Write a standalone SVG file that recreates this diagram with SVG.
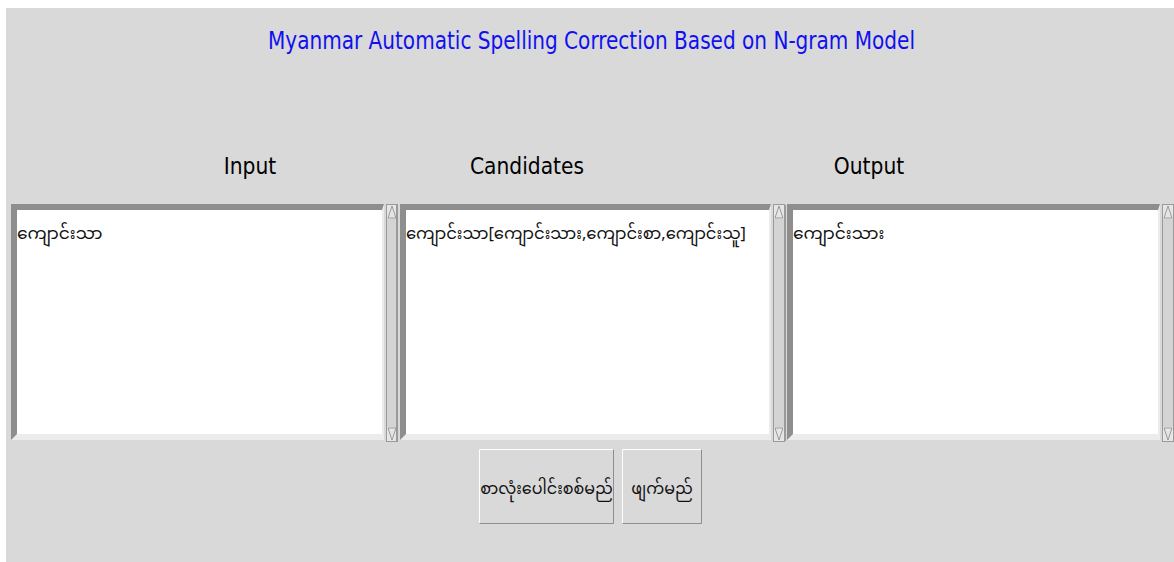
<svg xmlns="http://www.w3.org/2000/svg" width="1174" height="562" viewBox="0 0 1174 562">
<style>
.hdr{font-family:"DejaVu Sans Condensed","DejaVu Sans",sans-serif;font-stretch:condensed;font-size:22.5px;fill:#000;text-anchor:middle}
.title{font-family:"DejaVu Sans Condensed","DejaVu Sans",sans-serif;font-stretch:condensed;font-size:25px;fill:#1010f0}
.mm{font-family:"Noto Sans Myanmar","Padauk","Myanmar Text","Myanmar3","Noto Sans",sans-serif;font-size:17px;fill:#111}
.mmb{font-family:"Noto Sans Myanmar","Padauk","Myanmar Text","Myanmar3","Noto Sans",sans-serif;font-size:16px;fill:#111;text-anchor:middle}
.dark{fill:#8e8e8e}
.light{fill:#ececec}
.sb{fill:#d4d4d4;stroke:#9a9a9a;stroke-width:1}
.arr{fill:none;stroke:#9a9a9a;stroke-width:1}
.btn{fill:#d9d9d9}
</style>
<rect x="0" y="0" width="1174" height="562" fill="#ffffff"/>
<rect x="6" y="8" width="1168" height="554" fill="#d9d9d9"/>
<g id="title"><text class="title" x="268" y="49" textLength="647" lengthAdjust="spacingAndGlyphs">Myanmar Automatic Spelling Correction Based on N-gram Model</text></g>
<g id="headers">
<text class="hdr" x="250" y="174">Input</text>
<text class="hdr" x="527" y="174">Candidates</text>
<text class="hdr" x="869" y="174">Output</text>
</g>
<g id="input-box">
<rect class="light" x="11" y="204" width="373" height="236"/>
<polygon class="dark" points="11,204 384,204 382,210 17,210 17,434 11,440"/>
<rect x="17" y="210" width="365" height="224" fill="#ffffff"/>
<text class="mm" x="17" y="239">ကျောင်းသာ</text>
</g>
<g id="input-scroll">
<rect class="sb" x="386.5" y="204.5" width="11" height="237"/>
<rect fill="#e6e6e6" x="387" y="205" width="10" height="14"/>
<polygon class="arr" points="388,218 392,206 396,218"/>
<rect fill="#e6e6e6" x="387" y="427" width="10" height="14"/>
<polygon class="arr" points="388,428 392,440 396,428"/>
<rect fill="#9a9a9a" x="396" y="205" width="2" height="236"/>
</g>
<g id="candidates-box">
<rect class="light" x="400" y="204" width="371" height="236"/>
<polygon class="dark" points="400,204 771,204 769,210 406,210 406,434 400,440"/>
<rect x="406" y="210" width="363" height="224" fill="#ffffff"/>
<text class="mm" x="406" y="239" textLength="340" lengthAdjust="spacingAndGlyphs">ကျောင်းသာ[ကျောင်းသား,ကျောင်းစာ,ကျောင်းသူ]</text>
</g>
<g id="candidates-scroll">
<rect class="sb" x="773.5" y="204.5" width="11" height="237"/>
<rect fill="#e6e6e6" x="774" y="205" width="10" height="14"/>
<polygon class="arr" points="775,218 779,206 783,218"/>
<rect fill="#e6e6e6" x="774" y="427" width="10" height="14"/>
<polygon class="arr" points="775,428 779,440 783,428"/>
<rect fill="#9a9a9a" x="784" y="205" width="2" height="236"/>
</g>
<g id="output-box">
<rect class="light" x="787" y="204" width="373" height="236"/>
<polygon class="dark" points="787,204 1160,204 1158,210 793,210 793,434 787,440"/>
<rect x="793" y="210" width="365" height="224" fill="#ffffff"/>
<text class="mm" x="793" y="239">ကျောင်းသား</text>
</g>
<g id="output-scroll">
<rect class="sb" x="1162.5" y="204.5" width="11" height="237"/>
<rect fill="#e6e6e6" x="1163" y="205" width="10" height="14"/>
<polygon class="arr" points="1164,218 1168,206 1172,218"/>
<rect fill="#e6e6e6" x="1163" y="427" width="10" height="14"/>
<polygon class="arr" points="1164,428 1168,440 1172,428"/>
</g>
<g id="btn-check">
<rect class="btn" x="479" y="449" width="135" height="75"/>
<polyline points="479.5,523.5 479.5,449.5 613.5,449.5" fill="none" stroke="#ffffff" stroke-width="1"/>
<polyline points="479.5,523.5 613.5,523.5 613.5,449.5" fill="none" stroke="#8e8e8e" stroke-width="1"/>
<text class="mmb" x="546.5" y="494">စာလုံးပေါင်းစစ်မည်</text>
</g>
<g id="btn-delete">
<rect class="btn" x="622" y="449" width="80" height="75"/>
<polyline points="622.5,523.5 622.5,449.5 701.5,449.5" fill="none" stroke="#ffffff" stroke-width="1"/>
<polyline points="622.5,523.5 701.5,523.5 701.5,449.5" fill="none" stroke="#8e8e8e" stroke-width="1"/>
<text class="mmb" x="662" y="494">ဖျက်မည်</text>
</g>
</svg>
